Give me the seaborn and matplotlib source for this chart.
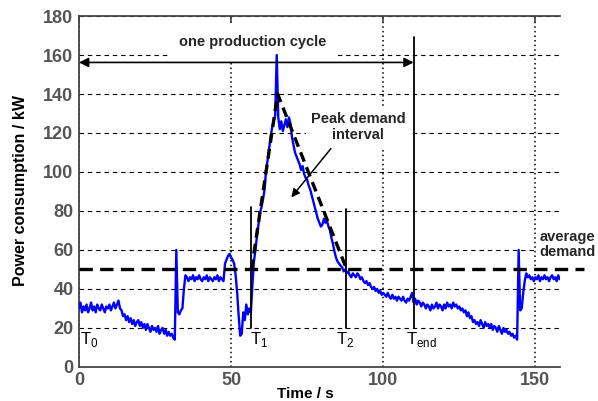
import numpy as np
import seaborn as sns
import matplotlib.pyplot as plt

# sampled power trace, one value every 0.5 s starting at t = 0
sample_step = 0.5
power_kw = [
    30, 33, 28, 31, 29, 32, 28, 30, 33, 29,
    31, 28, 32, 30, 29, 32, 30, 28, 31, 30,
    32, 29, 31, 33, 30, 32, 34, 30, 29, 26,
    27, 24, 26, 23, 25, 22, 24, 21, 23, 24,
    21, 23, 20, 22, 19, 22, 20, 18, 21, 19,
    20, 18, 21, 17, 19, 20, 17, 19, 16, 18,
    16, 17, 15, 14, 60, 28, 27, 29, 30, 40,
    47, 46, 44, 46, 45, 47, 44, 46, 45, 47,
    45, 44, 46, 45, 47, 44, 46, 45, 44, 46,
    45, 47, 44, 46, 45, 44, 53, 55, 57, 58,
    56, 55, 53, 47, 38, 26, 16, 17, 28, 24,
    32, 27, 30, 28, 42, 54, 60, 67, 73, 79,
    82, 86, 91, 101, 106, 112, 118, 123, 126, 129,
    160, 128, 122, 126, 121, 124, 127, 123, 128, 125,
    118, 114, 110, 108, 106, 104, 101, 103, 99, 97,
    96, 93, 91, 88, 85, 82, 79, 76, 74, 72,
    73, 76, 74, 75, 72, 70, 66, 63, 59, 56,
    54, 53, 52, 51, 49, 50, 48, 49, 47, 46,
    48, 47, 46, 48, 47, 45, 46, 44, 43, 44,
    42, 43, 41, 40, 41, 39, 40, 38, 39, 37,
    38, 37, 36, 38, 36, 35, 37, 35, 36, 34,
    36, 35, 34, 36, 34, 33, 35, 34, 36, 38,
    33, 35, 32, 34, 33, 31, 33, 32, 30, 32,
    31, 29, 32, 30, 31, 33, 30, 32, 31, 29,
    32, 30, 33, 31, 32, 30, 33, 31, 32, 30,
    31, 29, 30, 28, 29, 26, 28, 25, 26, 23,
    24, 22, 23, 21, 24, 22, 20, 23, 21, 22,
    20, 22, 19, 21, 20, 18, 21, 19, 17, 20,
    18, 19, 17, 18, 16, 17, 15, 16, 14, 60,
    29, 30, 38, 44, 48, 46, 47, 45, 46, 44,
    46, 45, 47, 44, 46, 45, 47, 45, 46, 44,
    46, 47, 45, 46, 44, 47, 45,
]
time_s = sample_step * np.arange(len(power_kw))

average_demand = 50
peak_x = [56.7, 65.3, 88.0]
peak_y = [50, 140, 50]
marker_times = {"T1": 56.6, "T2": 87.6, "Tend": 110.0}
marker_tops = {"T1": 82, "T2": 81, "Tend": 169}
cycle_arrow_y = 156.2
x_ticks = [0, 50, 100, 150]
y_ticks = list(range(0, 181, 20))

sns.set_theme(style="white")
plt.rcParams['font.family'] = ['Liberation Sans', 'DejaVu Sans']
plt.rcParams['mathtext.fontset'] = 'custom'
plt.rcParams['mathtext.rm'] = 'Liberation Sans'

fig = plt.figure(figsize=(5.98, 4.01), dpi=100)
ax = fig.add_axes([0.132, 0.085, 0.804, 0.875])

# grid: dashed horizontals, dotted verticals
ax.set_axisbelow(True)
ax.yaxis.grid(True, color='black', lw=0.8, linestyle=(0, (4, 3.5)))
ax.xaxis.grid(True, color='black', lw=1.1, linestyle=(0, (1, 2)))

sns.lineplot(x=time_s, y=power_kw, color='blue', lw=1.7, estimator=None, ax=ax, zorder=3)

# average demand line (runs past the right edge)
ax.plot([0, 166], [average_demand, average_demand], color='black', lw=2.4,
        dashes=(4, 2.2), clip_on=False, zorder=4)
# peak demand triangle
ax.plot(peak_x, peak_y, color='black', lw=2.4, dashes=(3, 1.8), zorder=4)

for key in marker_times:
    ax.plot([marker_times[key], marker_times[key]], [20, marker_tops[key]],
            color='black', lw=1.3, zorder=4)

ax.annotate('', xy=(0, cycle_arrow_y), xytext=(marker_times["Tend"], cycle_arrow_y),
            arrowprops=dict(arrowstyle='<|-|>', color='black', lw=1.2,
                            shrinkA=0, shrinkB=0, mutation_scale=14), zorder=5)
ax.text(57.2, 166.8, 'one production cycle', ha='center', va='center',
        fontsize=10.5, fontweight='bold', zorder=2,
        bbox=dict(boxstyle='square,pad=0.8', facecolor='white', edgecolor='none'))

ax.text(91.7, 123, 'Peak demand\ninterval', ha='center', va='center',
        fontsize=10.5, fontweight='bold', linespacing=1.2, zorder=2,
        bbox=dict(boxstyle='square,pad=0.3', facecolor='white', edgecolor='none'))
ax.annotate('', xy=(69.8, 87), xytext=(82.8, 112),
            arrowprops=dict(arrowstyle='-|>', color='black', lw=1.1,
                            shrinkA=0, shrinkB=0, mutation_scale=12), zorder=5)

ax.text(151.3, 62.6, 'average\ndemand', ha='left', va='center', fontsize=10.5,
        fontweight='bold', linespacing=1.1, zorder=2,
        bbox=dict(boxstyle='square,pad=0.1', facecolor='white', edgecolor='none'))

t_labels = [(0.3, 'T$_\\mathregular{0}$'), (56.2, 'T$_\\mathregular{1}$'),
            (84.5, 'T$_\\mathregular{2}$'), (107.4, 'T$_\\mathregular{end}$')]
for tx, lab in t_labels:
    ax.text(tx, 14, lab, ha='left', va='center', fontsize=12, color='black', zorder=5)

ax.set_xlim(0, 158)
ax.set_ylim(0, 180)
ax.set_xticks(x_ticks)
ax.set_yticks(y_ticks)
ax.tick_params(axis='both', direction='in', length=4, width=1.2, colors='#444444',
               labelsize=13, labelcolor='#555555', top=True, pad=4)
for lab in ax.get_xticklabels() + ax.get_yticklabels():
    lab.set_fontweight('bold')

for side in ['left', 'bottom', 'top']:
    ax.spines[side].set_color('#444444')
    ax.spines[side].set_linewidth(1.3)
ax.spines['right'].set_visible(False)

ax.set_xlabel('Time / s', fontsize=11, fontweight='bold', color='black')
ax.set_ylabel('Power consumption / kW', fontsize=11.5, fontweight='bold', color='black')
ax.xaxis.set_label_coords(0.472, -0.057)
ax.yaxis.set_label_coords(-0.106, 0.504)

fig.savefig('out.png', dpi=100)
